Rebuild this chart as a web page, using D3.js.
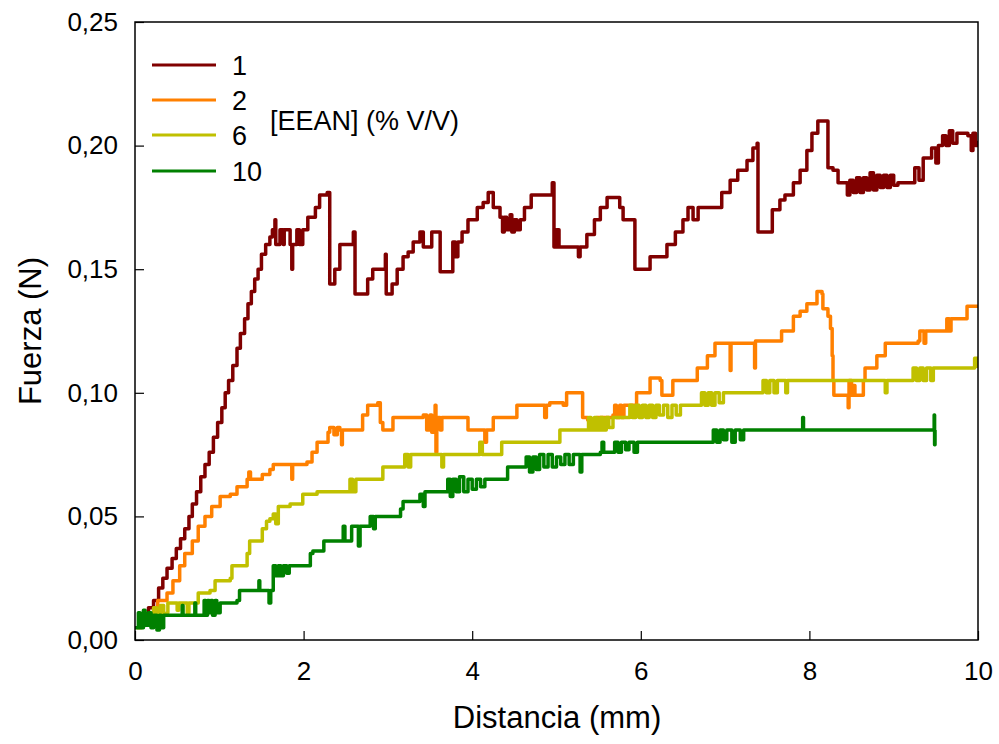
<!DOCTYPE html>
<html><head><meta charset="utf-8">
<script src="https://cdn.jsdelivr.net/npm/d3@7"></script>
<style>body{margin:0;background:#fff;} svg{display:block;font-family:Arial,"Liberation Sans",sans-serif;}</style>
</head><body><svg id="chart" width="999" height="744"></svg>
<script>
const xTicks = [0, 2, 4, 6, 8, 10];
const yTicks = [0, 0.05, 0.10, 0.15, 0.20, 0.25];
const seriesNames = ["1", "2", "6", "10"];
const seriesColors = ["#800000", "#FF8000", "#C0C000", "#008000"];
const legendTitle = "[EEAN] (% V/V)";
const xTitle = "Distancia (mm)";
const yTitle = "Fuerza (N)";

// [distance (mm), force (N)]
const series1 = [[0.08,0.006],[0.10,0.010],[0.16,0.013],[0.22,0.016],[0.28,0.021],[0.33,0.025],[0.38,0.029],[0.44,0.033],[0.49,0.037],[0.54,0.041],[0.59,0.045],[0.64,0.050],[0.68,0.055],[0.73,0.060],[0.78,0.066],[0.83,0.071],[0.88,0.076],[0.93,0.082],[0.98,0.088],[1.03,0.094],[1.07,0.100],[1.11,0.105],[1.16,0.111],[1.21,0.118],[1.25,0.124],[1.30,0.130],[1.34,0.136],[1.38,0.141],[1.42,0.146],[1.46,0.150],[1.50,0.156],[1.55,0.160],[1.60,0.163],[1.63,0.166],[1.66,0.170],[1.67,0.160],[1.72,0.166],[1.76,0.160],[1.77,0.166],[1.80,0.166],[1.84,0.160],[1.86,0.150],[1.87,0.160],[1.92,0.166],[1.95,0.160],[1.99,0.166],[2.05,0.171],[2.14,0.175],[2.19,0.180],[2.28,0.181],[2.31,0.144],[2.37,0.150],[2.43,0.160],[2.57,0.160],[2.59,0.165],[2.61,0.140],[2.75,0.140],[2.76,0.146],[2.82,0.150],[2.93,0.150],[2.97,0.156],[2.98,0.140],[3.05,0.144],[3.11,0.150],[3.18,0.155],[3.24,0.157],[3.30,0.161],[3.38,0.165],[3.42,0.159],[3.52,0.165],[3.62,0.149],[3.74,0.149],[3.77,0.161],[3.80,0.155],[3.83,0.161],[3.88,0.165],[3.95,0.170],[4.06,0.175],[4.13,0.177],[4.19,0.181],[4.25,0.175],[4.33,0.171],[4.36,0.165],[4.38,0.171],[4.41,0.166],[4.45,0.172],[4.47,0.165],[4.50,0.170],[4.53,0.166],[4.57,0.170],[4.62,0.175],[4.70,0.180],[4.89,0.180],[4.95,0.185],[4.97,0.159],[5.00,0.166],[5.03,0.159],[5.24,0.159],[5.26,0.155],[5.28,0.159],[5.36,0.164],[5.45,0.170],[5.52,0.175],[5.60,0.179],[5.70,0.179],[5.75,0.175],[5.79,0.170],[5.90,0.170],[5.93,0.150],[6.09,0.150],[6.11,0.155],[6.23,0.155],[6.31,0.160],[6.41,0.165],[6.50,0.170],[6.56,0.175],[6.62,0.170],[6.68,0.175],[6.92,0.175],[6.96,0.181],[7.06,0.186],[7.15,0.190],[7.26,0.194],[7.33,0.199],[7.38,0.201],[7.39,0.165],[7.51,0.165],[7.56,0.174],[7.65,0.178],[7.71,0.180],[7.81,0.185],[7.89,0.190],[7.97,0.198],[8.03,0.205],[8.10,0.210],[8.19,0.210],[8.22,0.191],[8.28,0.190],[8.34,0.185],[8.45,0.180],[8.48,0.186],[8.52,0.181],[8.56,0.187],[8.60,0.181],[8.64,0.187],[8.68,0.182],[8.72,0.189],[8.76,0.182],[8.80,0.188],[8.84,0.183],[8.88,0.188],[8.92,0.183],[8.96,0.188],[9.00,0.184],[9.05,0.185],[9.22,0.185],[9.25,0.191],[9.30,0.186],[9.35,0.195],[9.45,0.199],[9.50,0.193],[9.53,0.200],[9.58,0.204],[9.62,0.200],[9.66,0.206],[9.70,0.201],[9.75,0.205],[9.88,0.204],[9.92,0.198],[9.94,0.205],[9.97,0.200],[10.0,0.202]];

const series2 = [[0.05,0.006],[0.15,0.010],[0.24,0.012],[0.27,0.016],[0.38,0.019],[0.45,0.024],[0.53,0.030],[0.59,0.035],[0.68,0.040],[0.75,0.046],[0.83,0.050],[0.91,0.054],[1.01,0.058],[1.13,0.059],[1.21,0.062],[1.33,0.065],[1.35,0.068],[1.37,0.065],[1.51,0.067],[1.60,0.069],[1.64,0.071],[1.84,0.071],[1.86,0.065],[1.87,0.071],[2.04,0.072],[2.10,0.076],[2.16,0.080],[2.29,0.084],[2.31,0.086],[2.36,0.083],[2.40,0.086],[2.43,0.085],[2.45,0.079],[2.46,0.085],[2.63,0.085],[2.70,0.091],[2.76,0.095],[2.88,0.096],[2.91,0.088],[2.94,0.085],[3.06,0.090],[3.42,0.091],[3.46,0.085],[3.50,0.091],[3.52,0.084],[3.54,0.090],[3.56,0.095],[3.57,0.076],[3.58,0.090],[3.62,0.085],[3.64,0.090],[3.89,0.090],[3.95,0.085],[4.13,0.085],[4.15,0.080],[4.17,0.085],[4.25,0.090],[4.48,0.090],[4.53,0.095],[4.84,0.095],[4.86,0.090],[4.88,0.095],[4.92,0.096],[5.08,0.095],[5.12,0.100],[5.28,0.100],[5.31,0.090],[5.37,0.089],[5.43,0.086],[5.48,0.090],[5.67,0.091],[5.69,0.095],[5.71,0.090],[5.75,0.095],[5.77,0.090],[5.80,0.095],[5.95,0.100],[6.11,0.106],[6.23,0.105],[6.25,0.099],[6.37,0.099],[6.38,0.105],[6.67,0.110],[6.79,0.115],[6.88,0.120],[7.06,0.109],[7.07,0.120],[7.35,0.110],[7.36,0.121],[7.67,0.125],[7.81,0.131],[7.89,0.133],[7.97,0.136],[8.09,0.141],[8.15,0.140],[8.16,0.134],[8.22,0.131],[8.25,0.126],[8.27,0.115],[8.28,0.105],[8.29,0.099],[8.42,0.099],[8.46,0.094],[8.47,0.105],[8.50,0.099],[8.52,0.103],[8.54,0.099],[8.64,0.105],[8.66,0.110],[8.80,0.115],[8.90,0.120],[9.29,0.121],[9.31,0.125],[9.36,0.120],[9.38,0.125],[9.63,0.130],[9.66,0.125],[9.68,0.130],[9.87,0.135],[10.0,0.135]];

const series3 = [[0.02,0.005],[0.08,0.008],[0.18,0.009],[0.22,0.013],[0.26,0.009],[0.30,0.014],[0.34,0.010],[0.38,0.011],[0.39,0.015],[0.50,0.012],[0.52,0.015],[0.60,0.015],[0.62,0.011],[0.64,0.015],[0.69,0.015],[0.75,0.019],[0.89,0.020],[0.95,0.024],[1.13,0.025],[1.15,0.030],[1.33,0.035],[1.36,0.040],[1.51,0.045],[1.56,0.048],[1.60,0.049],[1.64,0.051],[1.67,0.047],[1.70,0.054],[1.84,0.055],[1.99,0.059],[2.16,0.060],[2.53,0.060],[2.55,0.065],[2.58,0.060],[2.62,0.065],[2.94,0.070],[3.20,0.075],[3.24,0.070],[3.27,0.075],[3.64,0.070],[3.66,0.075],[4.09,0.080],[4.12,0.075],[4.30,0.075],[4.35,0.080],[5.04,0.085],[5.36,0.085],[5.38,0.090],[5.41,0.085],[5.45,0.090],[5.48,0.085],[5.52,0.090],[5.55,0.085],[5.59,0.090],[5.62,0.086],[5.67,0.090],[5.87,0.095],[5.90,0.090],[5.94,0.095],[5.98,0.090],[6.02,0.095],[6.06,0.090],[6.10,0.095],[6.14,0.090],[6.18,0.095],[6.22,0.091],[6.27,0.095],[6.32,0.090],[6.37,0.095],[6.42,0.091],[6.47,0.095],[6.72,0.100],[6.76,0.095],[6.80,0.100],[6.84,0.095],[6.88,0.100],[6.93,0.096],[6.98,0.100],[7.45,0.105],[7.49,0.100],[7.53,0.105],[7.58,0.100],[7.62,0.105],[7.72,0.100],[7.74,0.105],[8.90,0.100],[8.92,0.105],[9.23,0.110],[9.27,0.105],[9.31,0.110],[9.35,0.105],[9.39,0.110],[9.44,0.105],[9.47,0.110],[9.96,0.114],[10.0,0.110]];

const series4 = [[0.00,0.005],[0.04,0.011],[0.06,0.005],[0.10,0.012],[0.12,0.006],[0.16,0.011],[0.19,0.005],[0.22,0.010],[0.26,0.004],[0.29,0.010],[0.31,0.005],[0.34,0.010],[0.55,0.010],[0.56,0.014],[0.57,0.010],[0.70,0.010],[0.71,0.015],[0.72,0.010],[0.80,0.010],[0.82,0.016],[0.84,0.010],[0.86,0.016],[0.88,0.011],[0.90,0.016],[0.92,0.010],[0.95,0.016],[0.97,0.011],[1.01,0.015],[1.21,0.016],[1.24,0.020],[1.45,0.020],[1.47,0.024],[1.48,0.020],[1.59,0.015],[1.61,0.020],[1.64,0.030],[1.67,0.026],[1.70,0.030],[1.73,0.026],[1.76,0.030],[1.80,0.027],[1.83,0.030],[2.08,0.035],[2.11,0.036],[2.24,0.040],[2.47,0.046],[2.49,0.040],[2.55,0.040],[2.57,0.046],[2.63,0.046],[2.65,0.038],[2.67,0.046],[2.79,0.050],[2.83,0.045],[2.85,0.050],[3.15,0.053],[3.18,0.056],[3.38,0.059],[3.42,0.054],[3.44,0.060],[3.71,0.065],[3.74,0.058],[3.77,0.065],[3.81,0.060],[3.85,0.066],[3.90,0.060],[3.95,0.065],[4.00,0.061],[4.05,0.065],[4.10,0.062],[4.15,0.065],[4.42,0.070],[4.60,0.070],[4.64,0.074],[4.68,0.068],[4.72,0.074],[4.76,0.069],[4.80,0.075],[4.85,0.070],[4.90,0.075],[4.95,0.070],[5.00,0.074],[5.05,0.071],[5.10,0.075],[5.15,0.071],[5.20,0.075],[5.28,0.068],[5.30,0.075],[5.52,0.076],[5.54,0.080],[5.56,0.076],[5.69,0.080],[5.73,0.076],[5.77,0.080],[5.82,0.077],[5.86,0.080],[5.92,0.076],[5.96,0.080],[6.03,0.080],[6.86,0.085],[6.90,0.080],[6.94,0.085],[6.98,0.081],[7.02,0.085],[7.08,0.080],[7.12,0.085],[7.18,0.081],[7.22,0.085],[7.92,0.090],[7.93,0.085],[9.48,0.091],[9.485,0.079],[9.49,0.085]];

const allSeries = [series1, series2, series3, series4];

const svg = d3.select("#chart");
const x = d3.scaleLinear().domain([0, 10]).range([135, 978]);
const y = d3.scaleLinear().domain([0, 0.25]).range([640, 22]);

svg.append("clipPath").attr("id", "clip").append("rect")
  .attr("x", 135).attr("y", 22).attr("width", 843).attr("height", 618);

const line = d3.line().x(d => x(d[0])).y(d => y(d[1])).curve(d3.curveStepAfter);
const g = svg.append("g").attr("clip-path", "url(#clip)");
allSeries.forEach((s, i) => {
  g.append("path").datum(s).attr("d", line)
    .attr("fill", "none").attr("stroke", seriesColors[i])
    .attr("stroke-width", 3.5).attr("stroke-linejoin", "round");
});

// axes
const yAxis = d3.axisLeft(y).tickValues(yTicks).tickSize(-9).tickPadding(17)
  .tickFormat(d => d3.format(".2f")(d).replace(".", ","));
const xAxis = d3.axisBottom(x).tickValues(xTicks).tickSize(-9).tickPadding(22)
  .tickFormat(d => String(d));
const ya = svg.append("g").attr("transform", "translate(135,0)").call(yAxis);
const xa = svg.append("g").attr("transform", "translate(0,640)").call(xAxis);
[ya, xa].forEach(a => {
  a.select(".domain").remove();
  a.selectAll("line").attr("stroke", "#000").attr("stroke-width", 1.2);
  a.selectAll("text").attr("font-size", 26).attr("fill", "#000")
    .attr("font-family", "Arial, 'Liberation Sans', sans-serif");
});

svg.append("rect").attr("x", 135).attr("y", 22).attr("width", 843).attr("height", 618)
  .attr("fill", "none").attr("stroke", "#000").attr("stroke-width", 1.5);

// titles
svg.append("text").attr("x", 557).attr("y", 728).attr("text-anchor", "middle")
  .attr("font-size", 31).text(xTitle);
svg.append("text").attr("transform", "translate(41,331) rotate(-90)")
  .attr("text-anchor", "middle").attr("font-size", 31).text(yTitle);

// legend
const legendY = [65, 100, 135, 171];
seriesNames.forEach((n, i) => {
  svg.append("line").attr("x1", 152).attr("x2", 216)
    .attr("y1", legendY[i]).attr("y2", legendY[i])
    .attr("stroke", seriesColors[i]).attr("stroke-width", 3);
  svg.append("text").attr("x", 232).attr("y", legendY[i] + 10)
    .attr("font-size", 27).text(n);
});
svg.append("text").attr("x", 270).attr("y", 130).attr("font-size", 27).text(legendTitle);
</script></body></html>
